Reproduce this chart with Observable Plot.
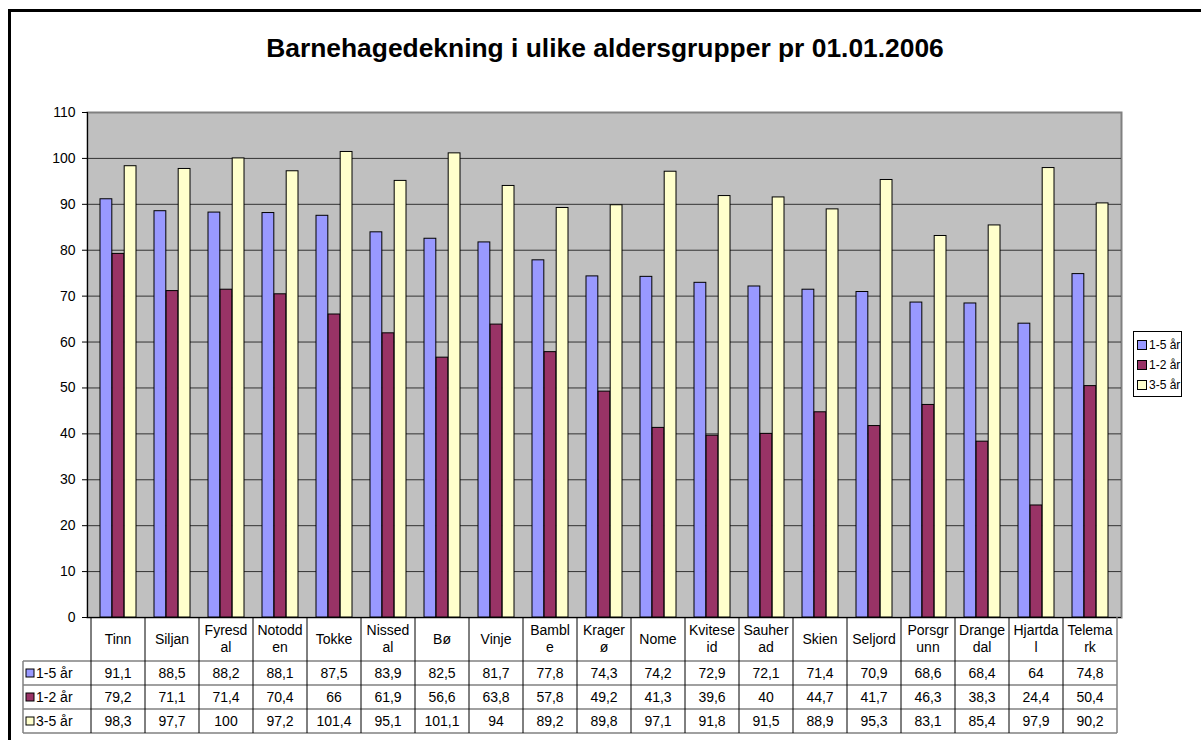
<!DOCTYPE html>
<html>
<head>
<meta charset="utf-8">
<script src="https://cdn.jsdelivr.net/npm/d3@7"></script>
<script src="https://cdn.jsdelivr.net/npm/@observablehq/plot@0.6"></script>
<style>
  html, body { margin: 0; padding: 0; background: #fff; }
  body { width: 1201px; height: 740px; overflow: hidden; position: relative; font-family: "Liberation Sans", Arial, sans-serif; }
  #frame { position: absolute; left: 8px; top: 9px; width: 1300px; height: 800px; border: 3px solid #000; box-sizing: border-box; }
  #chart { position: absolute; left: 0; top: 0; }
  #chart svg text { font-size: 14px; font-family: "Liberation Sans", Arial, sans-serif; }
  #title { position: absolute; left: 0; top: 33px; width: 1210px; text-align: center; font-weight: bold; font-size: 26.4px; line-height: 30px; color: #000; }
  #legend { position: absolute; left: 1133px; top: 331px; width: 49px; height: 66px; border: 1px solid #000; background: #fff; box-sizing: border-box; font-size: 12px; padding-top: 3px; }
  #legend .item { display: flex; align-items: center; height: 20px; padding-left: 3px; white-space: nowrap; }
  #legend .sw { width: 8px; height: 8px; border: 1px solid #000; margin-right: 2px; }
</style>
</head>
<body>
<div id="frame"></div>
<div id="chart"></div>
<div id="title">Barnehagedekning i ulike aldersgrupper pr 01.01.2006</div>
<div id="legend"></div>
<script>
// ---- data ----
const categories = ["Tinn","Siljan","Fyresdal","Notodden","Tokke","Nissedal","Bø","Vinje","Bamble","Kragerø","Nome","Kviteseid","Sauherad","Skien","Seljord","Porsgrunn","Drangedal","Hjartdal","Telemark"];
const categoryLabels = ["Tinn","Siljan","Fyresd\nal","Notodd\nen","Tokke","Nissed\nal","Bø","Vinje","Bambl\ne","Krager\nø","Nome","Kvitese\nid","Sauher\nad","Skien","Seljord","Porsgr\nunn","Drange\ndal","Hjartda\nl","Telema\nrk"];
const seriesNames = ["1-5 år","1-2 år","3-5 år"];
const seriesColors = ["#9999FF","#993366","#FFFFCC"];
const values_1_5 = [91.1,88.5,88.2,88.1,87.5,83.9,82.5,81.7,77.8,74.3,74.2,72.9,72.1,71.4,70.9,68.6,68.4,64,74.8];
const values_1_2 = [79.2,71.1,71.4,70.4,66,61.9,56.6,63.8,57.8,49.2,41.3,39.6,40,44.7,41.7,46.3,38.3,24.4,50.4];
const values_3_5 = [98.3,97.7,100,97.2,101.4,95.1,101.1,94,89.2,89.8,97.1,91.8,91.5,88.9,95.3,83.1,85.4,97.9,90.2];
const yTicks = [0,10,20,30,40,50,60,70,80,90,100,110];

const seriesValues = [values_1_5, values_1_2, values_3_5];
const data = [];
categories.forEach((c, i) => {
  seriesNames.forEach((s, j) => data.push({category: c, series: s, value: seriesValues[j][i]}));
});

const font = '"Liberation Sans", Arial, sans-serif';

// layout
const W = 1201, H = 740, mL = 87, mR = 80, mT = 112, mB = 123;
const padInner = 1/3, padOuter = 1/6;
const stepPx = (W - mL - mR) / (categories.length - padInner + 2 * padOuter);
const bandPx = stepPx * (1 - padInner);
const barPx = bandPx / seriesNames.length;

const barMarks = seriesNames.map((s, j) =>
  Plot.barY(data.filter(d => d.series === s), {
    x: "category", y: "value", fill: "series", stroke: "#000", strokeWidth: 1,
    insetLeft: j * barPx, insetRight: (seriesNames.length - 1 - j) * barPx
  })
);

const chart = Plot.plot({
  width: W,
  height: H,
  marginLeft: mL,
  marginRight: mR,
  marginTop: mT,
  marginBottom: mB,
  style: {fontFamily: font, fontSize: "14px", background: "transparent", color: "#000", overflow: "visible"},
  x: {domain: categories, paddingInner: padInner, paddingOuter: padOuter, axis: null},
  y: {domain: [0, 110], axis: null},
  color: {type: "ordinal", domain: seriesNames, range: seriesColors},
  marks: [
    Plot.frame({fill: "#C0C0C0", stroke: "#808080", strokeWidth: 2}),
    Plot.gridY({ticks: yTicks.filter(t => t > 0 && t < 110), stroke: "#333", strokeOpacity: 1, strokeWidth: 1}),
    ...barMarks,
    Plot.frame({anchor: "left", stroke: "#000", strokeWidth: 1}),
    Plot.ruleY([0], {stroke: "#000", strokeWidth: 1}),
    Plot.axisY({ticks: yTicks, tickSize: 5, tickPadding: 7, label: null, fontSize: 14, stroke: "#000"})
  ]
});
document.getElementById("chart").appendChild(chart);

// ---- data table under the chart, positioned with the chart's own scales ----
const xs = chart.scale("x");
const ys = chart.scale("y");
const svg = d3.select(chart);
const g = svg.append("g").attr("font-family", font).attr("font-size", 14).attr("fill", "#000").attr("text-anchor", "start");
const step = xs.step, bw = xs.bandwidth;
const cellLeft = c => xs.apply(c) - (step - bw) / 2;
const y0 = ys.apply(0);
const catH = 44, rowH = 24;
const rowTop = y0 + catH;
const tableLeft = 23;
const right0 = cellLeft(categories[categories.length - 1]) + step;

// horizontal lines
for (let r = 0; r <= 3; r++) {
  g.append("line").attr("x1", tableLeft).attr("x2", right0)
    .attr("y1", rowTop + r * rowH).attr("y2", rowTop + r * rowH)
    .attr("stroke", "#808080").attr("stroke-width", 1.5);
}
// vertical lines
categories.forEach((c) => {
  const x = cellLeft(c);
  g.append("line").attr("x1", x).attr("x2", x).attr("y1", y0).attr("y2", rowTop + 3 * rowH)
    .attr("stroke", "#000").attr("stroke-width", 1);
});
g.append("line").attr("x1", right0).attr("x2", right0).attr("y1", y0).attr("y2", rowTop + 3 * rowH)
  .attr("stroke", "#808080").attr("stroke-width", 1.5);
g.append("line").attr("x1", tableLeft).attr("x2", tableLeft).attr("y1", rowTop).attr("y2", rowTop + 3 * rowH)
  .attr("stroke", "#808080").attr("stroke-width", 1.5);

// category labels
categories.forEach((c, i) => {
  const cx = cellLeft(c) + step / 2;
  const lines = categoryLabels[i].split("\n");
  const cy = y0 + catH / 2;
  lines.forEach((ln, k) => {
    g.append("text").attr("x", cx).attr("y", cy + (k - (lines.length - 1) / 2) * 17)
      .attr("dy", "0.35em").attr("text-anchor", "middle").text(ln);
  });
});

// values and row headers
seriesNames.forEach((s, j) => {
  const cy = rowTop + j * rowH + rowH / 2;
  g.append("rect").attr("x", 26).attr("y", cy - 4).attr("width", 8).attr("height", 8)
    .attr("fill", seriesColors[j]).attr("stroke", "#000").attr("stroke-width", 1);
  g.append("text").attr("x", 36).attr("y", cy).attr("dy", "0.35em").attr("text-anchor", "start").text(s);
  categories.forEach((c, i) => {
    g.append("text").attr("x", cellLeft(c) + step / 2).attr("y", cy).attr("dy", "0.35em")
      .attr("text-anchor", "middle").text(String(seriesValues[j][i]).replace(".", ","));
  });
});

// legend
const legend = d3.select("#legend");
seriesNames.forEach((s, j) => {
  const it = legend.append("div").attr("class", "item");
  it.append("div").attr("class", "sw").style("background", seriesColors[j]);
  it.append("span").text(s);
});
</script>
</body>
</html>
